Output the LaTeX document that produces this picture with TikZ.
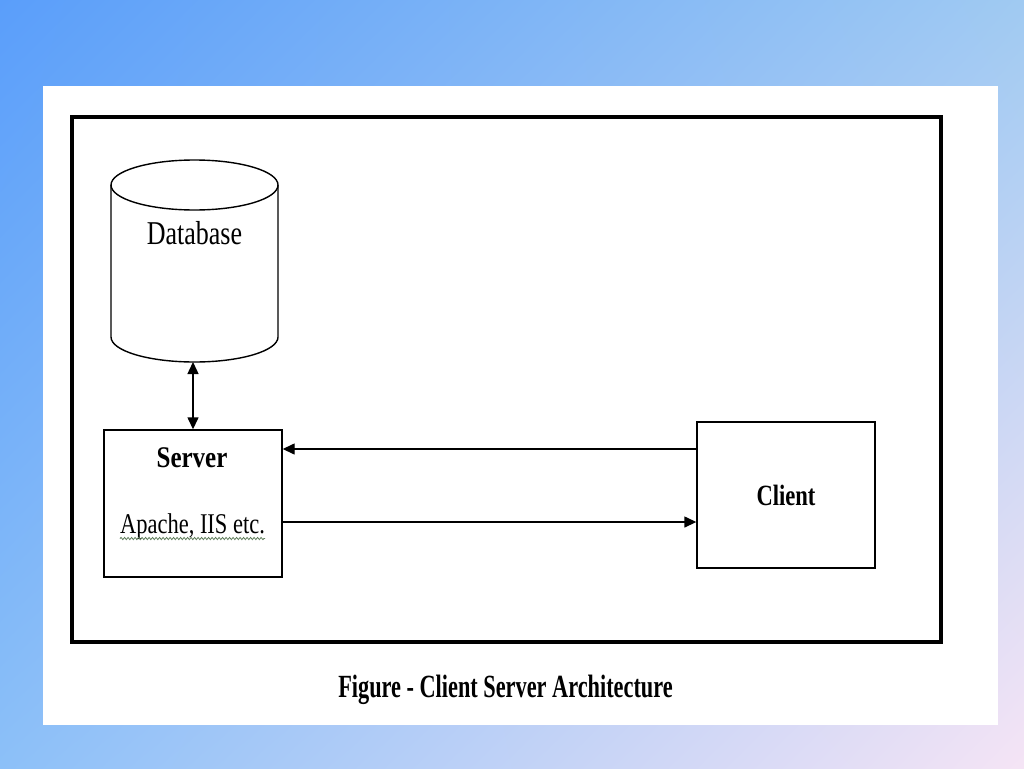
\documentclass[tikz,border=0pt]{standalone}
\usepackage{fontspec}
\setmainfont{Liberation Serif}
\usepackage{graphicx}
\usetikzlibrary{arrows.meta}
\usetikzlibrary{shadings}
\usetikzlibrary{decorations.pathmorphing}

\definecolor{bgtl}{RGB}{90,158,250}
\definecolor{bgtr}{RGB}{160,202,242}
\definecolor{bgbl}{RGB}{140,192,248}
\definecolor{bgbr}{RGB}{245,228,245}
\definecolor{squigcol}{RGB}{95,125,90}

\newcommand{\tallfont}[3]{\fontsize{#1}{#1}\selectfont\scalebox{1}[#2]{#3}}

\begin{document}
\begin{tikzpicture}[x=1pt, y=-1pt,
		box/.style={draw, line width=1.4pt, inner sep=0pt},
		lbl/.style={inner sep=0pt, anchor=base},
		conn/.style={line width=1.4pt, -{Triangle[length=12pt, width=11pt]}},
		twoway/.style={line width=1.4pt, {Triangle[length=12pt, width=11pt]}-{Triangle[length=12pt, width=11pt]}}]
			\useasboundingbox (0,0) rectangle (1024,768);
			\shade[upper left=bgtl, upper right=bgtr, lower left=bgbl, lower right=bgbr] (0,0) rectangle (1024,768);
			\fill[white] (43,86) rectangle (998,725);
			\draw[line width=4pt] (72,117) rectangle (941,642);
			% database cylinder
			\draw[box] (111,185) -- (111,337) arc[start angle=180, end angle=0, x radius=83.5, y radius=25] -- (278,185);
			\draw[box] (194.5,185) ellipse [x radius=83.5, y radius=25];
			\coordinate (dbbot) at (193,362);
			\node[lbl] (dbtitle) at (194.5,244) {\tallfont{26}{1.28}{Database}};
			% server and client
			\node[box, minimum width=178pt, minimum height=147pt] (server) at (193,503.5) {};
			\node[lbl] (srvtitle) at (192,467) {\tallfont{25}{1.2}{\bfseries Server}};
			\node[lbl] (srvsoft) at (192.5,533) {\tallfont{22.5}{1.27}{Apache, IIS etc.}};
			\draw[squigcol, line width=0.8pt, decorate, decoration={snake, amplitude=1.1pt, segment length=3.5pt}] (120,538.5) -- (265,538.5);
			\node[box, minimum width=178pt, minimum height=146pt] (client) at (786,495) {\tallfont{22.6}{1.3}{\bfseries Client}};
			\draw[twoway] (dbbot) -- (server.north);
			\draw[conn] ([yshift=46pt]client.west) -- ([yshift=54.5pt]server.east);
			\draw[conn] ([yshift=-18.5pt]server.east) -- ([yshift=-27pt]client.west);
			\node[lbl] (caption) at (505.5,697) {\tallfont{22.3}{1.45}{\bfseries Figure - Client Server Architecture}};
		\end{tikzpicture}
\end{document}
